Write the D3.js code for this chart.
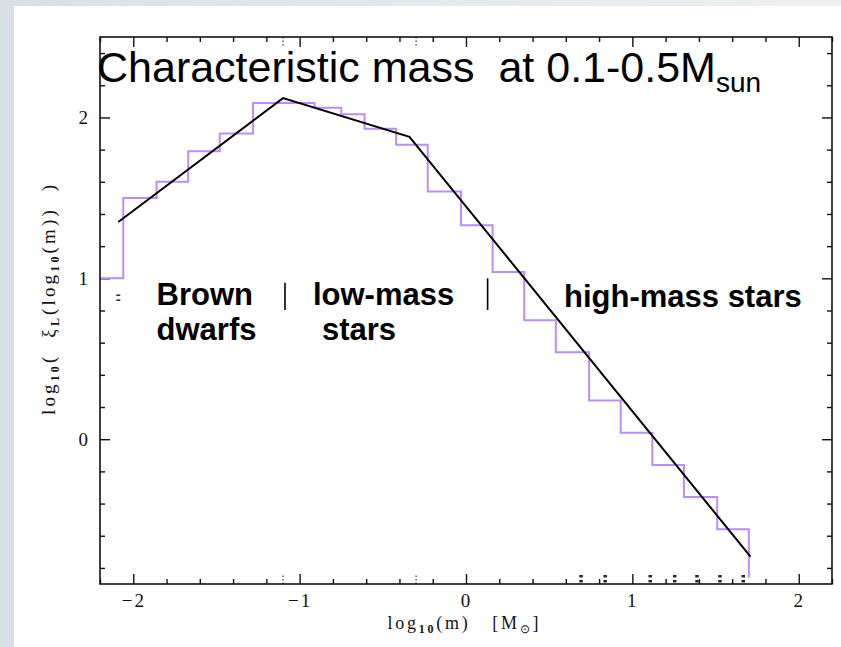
<!DOCTYPE html>
<html>
<head>
<meta charset="utf-8">
<style>
  html, body { margin: 0; padding: 0; }
  body { width: 841px; height: 647px; overflow: hidden; background: #e3e9ec; }
</style>
<script src="https://cdnjs.cloudflare.com/ajax/libs/d3/7.8.5/d3.min.js"></script>
</head>
<body>
<svg id="chart" width="841" height="647" font-family="'Liberation Serif', serif"></svg>
<script>
// histogram of the IMF, log10(m) bin edges and log10(xi_L) per bin
const binEdges  = [-2.2, -2.06, -1.86, -1.67, -1.48, -1.28, -0.91, -0.75, -0.61, -0.42, -0.23,
                   -0.03, 0.16, 0.35, 0.54, 0.74, 0.93, 1.12, 1.31, 1.51, 1.70];
const binValues = [1.0, 1.5, 1.6, 1.79, 1.9, 2.09, 2.06, 2.02, 1.93, 1.83,
                   1.54, 1.33, 1.04, 0.74, 0.54, 0.24, 0.04, -0.16, -0.36, -0.56];
const histEnd = -0.86;

// broken power-law fit
const fitX = [-2.09, -1.1, -0.34, 1.71];
const fitY = [1.35, 2.12, 1.88, -0.73];

// regime boundaries (dotted marks on the axes)
const boundaryX = [-1.1, -0.3];

// little limit markers near the bottom axis
const limitX = [0.69, 0.835, 1.106, 1.253, 1.387, 1.525, 1.665];

const xMajor = [-2, -1, 0, 1, 2];
const yMajor = [0, 1, 2];
const xMinor = d3.range(-11, 12).map(i => i / 5).filter(v => Math.abs(v - Math.round(v)) > 1e-6);
const yMinor = d3.range(-4, 13).map(i => i / 5).filter(v => Math.abs(v - Math.round(v)) > 1e-6);

// region labels (data units)
const regionText = [
    { text: 'Brown',  x: -1.86, y: 0.834 },
    { text: 'dwarfs', x: -1.86, y: 0.617 },
    { text: 'low-mass', x: -0.92, y: 0.834 },
    { text: 'stars',  x: -0.866, y: 0.617 },
    { text: 'high-mass stars', x: 0.589, y: 0.82 }
];
const separators = [
    { x: -1.088, y0: 0.972, y1: 0.803 },
    { x: 0.13,   y0: 1.0,   y1: 0.803 }
];

const SANS = "'Liberation Sans', Arial, sans-serif";
const SERIF = "'Liberation Serif', 'Times New Roman', serif";

const svg = d3.select('#chart');

// backdrop
const grad = svg.append('defs').append('linearGradient').attr('id', 'bg')
    .attr('x1', 0).attr('y1', 0).attr('x2', 1).attr('y2', 0);
grad.append('stop').attr('offset', 0).attr('stop-color', '#d8e1e6');
grad.append('stop').attr('offset', 1).attr('stop-color', '#eef0f1');
svg.append('rect').attr('width', 841).attr('height', 647).attr('fill', 'url(#bg)');
svg.append('rect').attr('x', 14).attr('y', 6).attr('width', 827).attr('height', 641).attr('fill', '#fff');

const x = d3.scaleLinear().domain([-2.2, 2.2]).range([100, 832]);
const y = d3.scaleLinear().domain([-0.9, 2.5]).range([584, 37]);

// tick marks, drawn inward on all four sides
function tickSet(axisFn, scale, vals, size, transform) {
    svg.append('g').attr('transform', transform)
        .call(axisFn(scale).tickValues(vals).tickSize(size).tickSizeOuter(0).tickFormat(''))
        .call(g => g.select('.domain').remove())
        .selectAll('line').attr('stroke', '#111').attr('stroke-width', 1.4);
}
tickSet(d3.axisBottom, x, xMajor, -10, 'translate(0,584)');
tickSet(d3.axisBottom, x, xMinor, -5, 'translate(0,584)');
tickSet(d3.axisTop, x, xMajor, -10, 'translate(0,37)');
tickSet(d3.axisTop, x, xMinor, -5, 'translate(0,37)');
tickSet(d3.axisLeft, y, yMajor, -10, 'translate(100,0)');
tickSet(d3.axisLeft, y, yMinor, -5, 'translate(100,0)');
tickSet(d3.axisRight, y, yMajor, -10, 'translate(832,0)');
tickSet(d3.axisRight, y, yMinor, -5, 'translate(832,0)');

// tick labels
svg.append('g').attr('transform', 'translate(0,584)')
    .call(d3.axisBottom(x).tickValues(xMajor).tickSize(0).tickPadding(10).tickFormat(d3.format('d')))
    .call(g => g.select('.domain').remove())
    .selectAll('text').attr('font-size', 19).attr('font-family', SERIF).attr('fill', '#111')
    .attr('letter-spacing', 2);
svg.append('g').attr('transform', 'translate(100,0)')
    .call(d3.axisLeft(y).tickValues(yMajor).tickSize(0).tickPadding(12).tickFormat(d3.format('d')))
    .call(g => g.select('.domain').remove())
    .selectAll('text').attr('font-size', 19).attr('font-family', SERIF).attr('fill', '#111');

// dotted regime boundaries
boundaryX.forEach(b => {
    svg.append('line').attr('x1', x(b)).attr('x2', x(b)).attr('y1', y.range()[0]).attr('y2', y.range()[0] - 10)
        .attr('stroke', '#333').attr('stroke-width', 1.2).attr('stroke-dasharray', '1.5,2');
    svg.append('line').attr('x1', x(b)).attr('x2', x(b)).attr('y1', y.range()[1]).attr('y2', y.range()[1] + 10)
        .attr('stroke', '#333').attr('stroke-width', 1.2).attr('stroke-dasharray', '1.5,2');
});

// histogram
const histPts = binValues.map((v, i) => [binEdges[i], v]);
histPts.push([binEdges[binEdges.length - 1], binValues[binValues.length - 1]]);
histPts.push([binEdges[binEdges.length - 1], histEnd]);
svg.append('path')
    .attr('d', d3.line().x(d => x(d[0])).y(d => y(d[1])).curve(d3.curveStepAfter)(histPts))
    .attr('fill', 'none').attr('stroke', '#bb8cff').attr('stroke-width', 2);

// fit line
svg.append('path')
    .attr('d', d3.line().x(d => x(d[0])).y(d => y(d[1]))(fitX.map((v, i) => [v, fitY[i]])))
    .attr('fill', 'none').attr('stroke', '#000').attr('stroke-width', 2);

// limit markers
limitX.forEach(v => {
    [0, 5].forEach(off => {
        svg.append('rect').attr('x', x(v) - 1.5).attr('y', y.range()[0] - 9 + off)
            .attr('width', 3.5).attr('height', 2.4).attr('fill', '#222');
    });
});
[0, 5].forEach(off => {
    svg.append('rect').attr('x', x(-2.09) - 2).attr('y', y(0.9) + off)
        .attr('width', 4).attr('height', 1.6).attr('fill', '#333');
});

// frame
svg.append('rect').attr('x', 100).attr('y', 37).attr('width', 732).attr('height', 547)
    .attr('fill', 'none').attr('stroke', '#111').attr('stroke-width', 1.6);

// region labels
svg.append('g').selectAll('text').data(regionText).join('text')
    .attr('x', d => x(d.x)).attr('y', d => y(d.y))
    .attr('font-family', SANS).attr('font-weight', 'bold')
    .attr('font-size', 31).attr('fill', '#000').text(d => d.text);
svg.append('g').selectAll('line').data(separators).join('line')
    .attr('x1', d => x(d.x)).attr('x2', d => x(d.x)).attr('y1', d => y(d.y0)).attr('y2', d => y(d.y1))
    .attr('stroke', '#000').attr('stroke-width', 1.6);

// title
const title = svg.append('text').attr('x', 97).attr('y', 82)
    .attr('font-family', SANS).attr('font-size', 43)
    .style('white-space', 'pre').attr('fill', '#000');
title.append('tspan').text('Characteristic mass  at 0.1-0.5M');
title.append('tspan').attr('dy', 10).attr('font-size', 28).text('sun');

// axis titles
const xl = svg.append('text').attr('x', 463).attr('y', 629).attr('text-anchor', 'middle')
    .attr('font-size', 18).attr('font-family', SERIF).style('white-space', 'pre').attr('fill', '#111')
    .attr('textLength', 151).attr('lengthAdjust', 'spacing');
xl.append('tspan').text('log');
xl.append('tspan').attr('dy', 4).attr('font-size', 12).attr('font-weight', 'bold').text('10');
xl.append('tspan').attr('dy', -4).text('(m)   [M');
xl.append('tspan').attr('dy', 4).attr('font-size', 12).text('⊙');
xl.append('tspan').attr('dy', -4).text(']');

const yl = svg.append('text').attr('transform', 'translate(55,300) rotate(-90)').attr('text-anchor', 'middle')
    .attr('font-size', 19).attr('font-family', SERIF).style('white-space', 'pre').attr('fill', '#111')
    .attr('textLength', 230).attr('lengthAdjust', 'spacing');
yl.append('tspan').text('log');
yl.append('tspan').attr('dy', 4).attr('font-size', 12).attr('font-weight', 'bold').text('10');
yl.append('tspan').attr('dy', -4).text('(  ξ');
yl.append('tspan').attr('dy', 4).attr('font-size', 12).attr('font-weight', 'bold').text('L');
yl.append('tspan').attr('dy', -4).text('(log');
yl.append('tspan').attr('dy', 4).attr('font-size', 12).attr('font-weight', 'bold').text('10');
yl.append('tspan').attr('dy', -4).text('(m))  )');
</script>
</body>
</html>
